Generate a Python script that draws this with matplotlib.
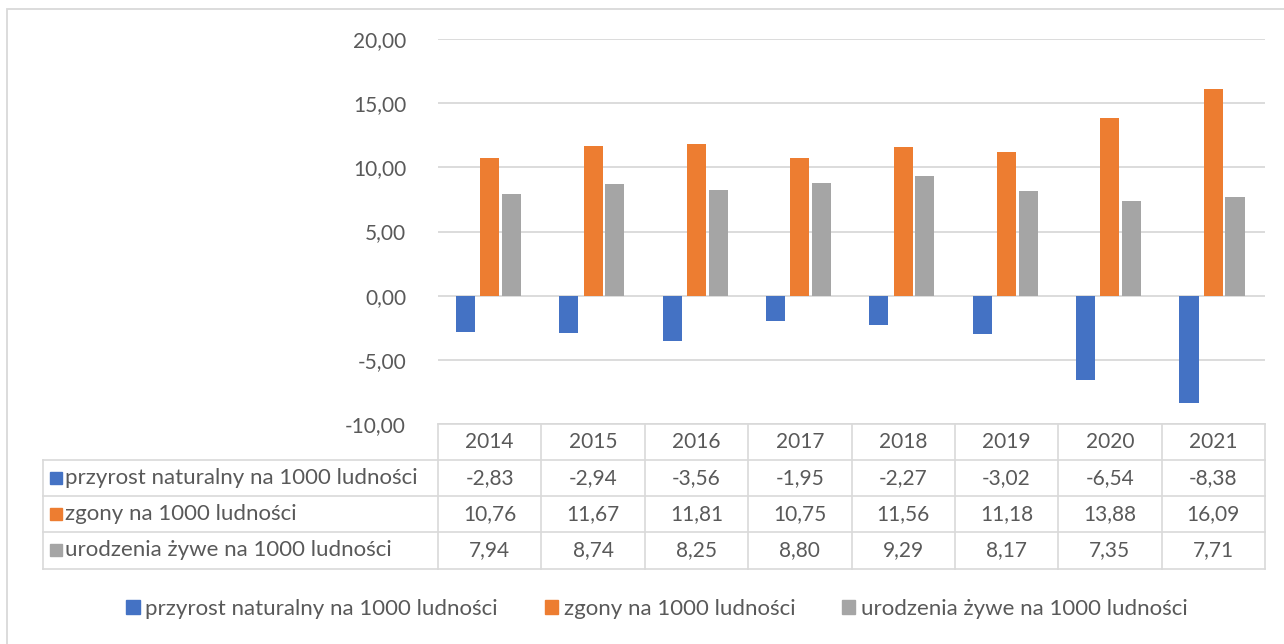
import numpy as np
import matplotlib
matplotlib.use("Agg")
import matplotlib.pyplot as plt
from matplotlib.lines import Line2D
from matplotlib.patches import Patch, Rectangle
import matplotlib.transforms as mtransforms

plt.rcParams['font.family'] = ['Lato', 'DejaVu Sans']

years = ['2014', '2015', '2016', '2017', '2018', '2019', '2020', '2021']
przyrost = [-2.83, -2.94, -3.56, -1.95, -2.27, -3.02, -6.54, -8.38]
zgony = [10.76, 11.67, 11.81, 10.75, 11.56, 11.18, 13.88, 16.09]
urodzenia = [7.94, 8.74, 8.25, 8.80, 9.29, 8.17, 7.35, 7.71]

series_names = ['przyrost naturalny na 1000 ludności',
                'zgony na 1000 ludności',
                'urodzenia żywe na 1000 ludności']
series_values = [przyrost, zgony, urodzenia]
colors = ['#4472C4', '#ED7D31', '#A5A5A5']

W, H = 1284, 644
TXT = '#595959'
GRID = '#D9D9D9'
FS = 15       # numbers
FS_LAB = 16   # series labels


def fy(py):
    # pixel row (from top) -> figure fraction
    return 1 - py / H


def fx(px):
    return px / W


fig = plt.figure(figsize=(W / 100, H / 100), dpi=100)
ax = fig.add_axes([fx(438), fy(424), fx(1265) - fx(438), fy(39) - fy(424)])

x = np.arange(len(years))
offsets = [-0.235, 0.0, 0.21]
width = 0.185
for vals, off, c in zip(series_values, offsets, colors):
    ax.bar(x + off, vals, width=width, color=c, zorder=3)

ax.set_xlim(-0.5, len(years) - 0.5)
ax.set_ylim(-10, 20)
ax.set_yticks(np.arange(-10, 21, 5))
ax.set_yticklabels([f"{v:.2f}".replace('.', ',') for v in np.arange(-10, 21, 5)],
                   fontsize=FS, color=TXT)
ax.tick_params(axis='y', length=0, pad=23)
ax.set_xticks([])
ax.grid(axis='y', color=GRID, linewidth=1.3, zorder=0)
for s in ax.spines.values():
    s.set_visible(False)

# data table below the plot
blend = mtransforms.blended_transform_factory(ax.transData, fig.transFigure)
row_lines = [424, 460, 496, 532, 569]
lw = 1.2
fig.add_artist(Line2D([fx(438), fx(1265)], [fy(424)] * 2, color=GRID, lw=lw,
                      transform=fig.transFigure))
for py in row_lines[1:]:
    fig.add_artist(Line2D([fx(43), fx(1265)], [fy(py)] * 2, color=GRID, lw=lw,
                          transform=fig.transFigure))
fig.add_artist(Line2D([fx(43), fx(43)], [fy(460), fy(569)], color=GRID, lw=lw,
                      transform=fig.transFigure))
for b in np.arange(-0.5, len(years), 1.0):
    fig.add_artist(Line2D([b, b], [fy(424), fy(569)], color=GRID, lw=lw,
                          transform=blend))

for i, yr in enumerate(years):
    fig.text(i, fy(442), yr, transform=blend, ha='center', va='center',
             fontsize=FS, color=TXT)
row_centers = [478, 514, 550]
for name, vals, c, rc in zip(series_names, series_values, colors, row_centers):
    fig.add_artist(Rectangle((fx(50), fy(rc) - 6 / H), 12 / W, 12 / H,
                             color=c, transform=fig.transFigure))
    fig.text(fx(65), fy(rc), name, ha='left', va='center', fontsize=FS_LAB, color=TXT)
    for i, v in enumerate(vals):
        fig.text(i, fy(rc), f"{v:.2f}".replace('.', ','), transform=blend,
                 ha='center', va='center', fontsize=FS, color=TXT)

handles = [Patch(color=c) for c in colors]
fig.legend(handles, series_names, loc='center', bbox_to_anchor=(fx(657), fy(609)),
           ncol=3, frameon=False, fontsize=FS_LAB, handlelength=0.6, handleheight=0.6,
           handletextpad=0.25, columnspacing=2.1, labelcolor=TXT)

# outer chart border
fig.add_artist(Rectangle((fx(7), -0.05), 1.1, fy(9) + 0.05, fill=False,
                         edgecolor=GRID, lw=1.3, transform=fig.transFigure))

fig.savefig('out.png', dpi=100)
